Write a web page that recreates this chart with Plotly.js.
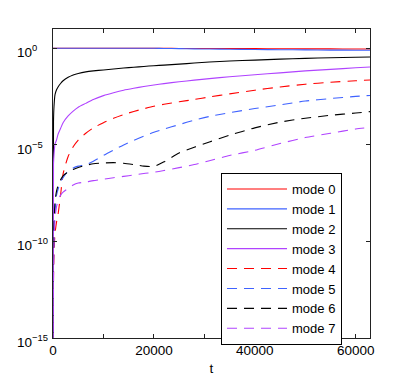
<!DOCTYPE html>
<html>
<head>
<meta charset="utf-8">
<script src="https://cdn.plot.ly/plotly-3.0.1.min.js"></script>
<style>
  body { margin: 0; background: #fff; }
  #modes-plot { width: 409px; height: 382px; }
</style>
</head>
<body>
<div id="modes-plot"></div>
<script>
let tValues = [0, 100, 200, 400, 700, 1000, 1500, 2000, 3000, 4000, 5000, 6500, 8000, 10000,
  12000, 14000, 16000, 18000, 20000, 22000, 25000, 28000, 31000, 35000, 40000, 45000,
  50000, 55000, 60000, 62832];

// mode amplitudes, t = 0 taken as a tiny value so the curve drops off the log axis
let mode0 = [1, 1, 1, 1, 1, 1, 1, 1, 1, 1, 1, 1, 1, 1, 1, 1, 1, 1, 1,
  0.99, 0.985, 0.98, 0.975, 0.97, 0.96, 0.95, 0.94, 0.93, 0.92, 0.92];
let mode1 = [1, 1, 1, 1, 1, 1, 1, 1, 1, 1, 1, 1, 1, 1, 1, 1, 1, 1, 1,
  0.98, 0.96, 0.94, 0.92, 0.9, 0.87, 0.85, 0.83, 0.81, 0.8, 0.79];
let mode2 = [1e-20, 1.6e-4, 1e-3, 4e-3, 7.1e-3, 1e-2, 1.51e-2, 2.09e-2, 3.16e-2, 4.17e-2,
  5.01e-2, 6.03e-2, 6.76e-2, 7.59e-2, 8.51e-2, 9.55e-2, 0.105, 0.115, 0.126, 0.135,
  0.151, 0.174, 0.195, 0.219, 0.245, 0.275, 0.302, 0.324, 0.347, 0.355];
let mode3 = [1e-20, 1e-6, 3.16e-6, 1.12e-5, 1.78e-5, 3.55e-5, 7.08e-5, 1.41e-4, 3.16e-4, 5.62e-4,
  8.91e-4, 1.41e-3, 2.24e-3, 3.55e-3, 5.01e-3, 6.76e-3, 8.51e-3, 1.05e-2, 1.26e-2, 1.48e-2,
  1.86e-2, 2.24e-2, 2.69e-2, 3.39e-2, 4.27e-2, 5.37e-2, 6.76e-2, 8.13e-2, 9.77e-2, 0.107];
let mode4 = [1e-20, 1e-12, 3.16e-11, 2.51e-10, 1e-9, 2.51e-9, 2.51e-8, 3.16e-7, 2.51e-6, 7.94e-6,
  1.78e-5, 3.98e-5, 7.59e-5, 1.41e-4, 2.4e-4, 3.72e-4, 5.37e-4, 7.41e-4, 1e-3, 1.26e-3,
  1.7e-3, 2.24e-3, 3.02e-3, 4.37e-3, 6.76e-3, 1e-2, 1.38e-2, 1.74e-2, 2.09e-2, 2.29e-2];
let mode5 = [1e-20, 1e-11, 3.16e-10, 3.16e-9, 2.51e-8, 5.01e-8, 1.26e-7, 2e-7, 4.47e-7, 6.31e-7,
  7.94e-7, 9.55e-7, 1.41e-6, 2.82e-6, 5.37e-6, 1e-5, 1.7e-5, 2.82e-5, 4.47e-5, 6.61e-5,
  1.12e-4, 1.91e-4, 2.95e-4, 4.68e-4, 7.59e-4, 1.17e-3, 1.86e-3, 2.51e-3, 3.24e-3, 3.63e-3];
let mode6 = [1e-20, 1e-11, 5.01e-10, 1.26e-8, 3.98e-8, 7.94e-8, 1.58e-7, 2.51e-7, 3.98e-7, 5.37e-7,
  6.76e-7, 8.71e-7, 1.05e-6, 1.15e-6, 1.2e-6, 1.12e-6, 9.55e-7, 7.94e-7, 7.59e-7, 1.32e-6,
  3.8e-6, 7.59e-6, 1.41e-5, 3.16e-5, 7.59e-5, 1.51e-4, 2.4e-4, 3.39e-4, 4.47e-4, 5.25e-4];
let mode7 = [1e-20, 1e-12, 1e-10, 1.58e-9, 6.31e-9, 1.26e-8, 2.51e-8, 3.55e-8, 5.62e-8, 8.32e-8,
  1.05e-7, 1.2e-7, 1.41e-7, 1.66e-7, 2e-7, 2.34e-7, 2.75e-7, 3.31e-7, 3.8e-7, 4.68e-7,
  6.61e-7, 9.55e-7, 1.51e-6, 2.82e-6, 5.25e-6, 1.17e-5, 2.4e-5, 3.98e-5, 6.61e-5, 7.94e-5];

let modeNames = ["mode 0", "mode 1", "mode 2", "mode 3", "mode 4", "mode 5", "mode 6", "mode 7"];
let modeSeries = [mode0, mode1, mode2, mode3, mode4, mode5, mode6, mode7];
let modeColors = ["#ff0000", "#3f62ff", "#000000", "#b043ff", "#ff0000", "#3f62ff", "#000000", "#b043ff"];

let yTickVals = [1, 1e-5, 1e-10, 1e-15];
let yTickText = ["10<sup>0</sup>", "10<sup>\u22125</sup>", "10<sup>\u221210</sup>", "10<sup>\u221215</sup>"];

let font = "Liberation Sans, Arial, Helvetica, sans-serif";

let data = modeSeries.map((ys, i) => ({
  x: tValues,
  y: ys,
  name: modeNames[i],
  type: "scatter",
  mode: "lines",
  line: { color: modeColors[i], width: 1.1, shape: "spline", smoothing: 0.6,
          dash: i < 4 ? "solid" : "10px,7px" }
}));

// y tick labels sit left aligned like the original, so they go in as annotations
let yLabels = yTickVals.map((v, i) => ({
  text: yTickText[i],
  xref: "paper", yref: "y",
  x: -0.12, y: Math.log10(v),
  xanchor: "left", yanchor: "middle",
  yshift: -3,
  showarrow: false,
  font: { family: font, size: 13.5, color: "#000" }
}));

let layout = {
  width: 409,
  height: 382,
  margin: { l: 53, r: 39, t: 29, b: 44 },
  paper_bgcolor: "#fff",
  plot_bgcolor: "#fff",
  showlegend: true,
  font: { family: font, size: 13.5, color: "#000" },
  xaxis: {
    range: [0, 62832],
    tick0: 0,
    dtick: 20000,
    tickformat: "d",
    ticks: "inside",
    ticklen: 4,
    tickcolor: "#222",
    minor: { dtick: 10000, ticks: "inside", ticklen: 4, tickcolor: "#222", showgrid: false },
    showline: true,
    linecolor: "#222",
    linewidth: 1,
    mirror: "allticks",
    showgrid: false,
    zeroline: false,
    tickfont: { family: font, size: 13.5, color: "#000" },
    title: { text: "t", font: { family: font, size: 13.5, color: "#000" }, standoff: 6 }
  },
  yaxis: {
    type: "log",
    range: [-15, 1],
    tickvals: yTickVals,
    ticks: "inside",
    ticklen: 4,
    tickcolor: "#222",
    showticklabels: false,
    showline: true,
    linecolor: "#222",
    linewidth: 1,
    mirror: "allticks",
    showgrid: false,
    zeroline: false
  },
  legend: {
    x: 0.53, y: 0.534,
    xanchor: "left", yanchor: "top",
    bgcolor: "#fff",
    bordercolor: "#000",
    borderwidth: 1,
    itemwidth: 60,
    font: { family: font, size: 13, color: "#000" }
  },
  annotations: yLabels
};

Plotly.newPlot("modes-plot", data, layout, { displayModeBar: false, staticPlot: true });
</script>
</body>
</html>
